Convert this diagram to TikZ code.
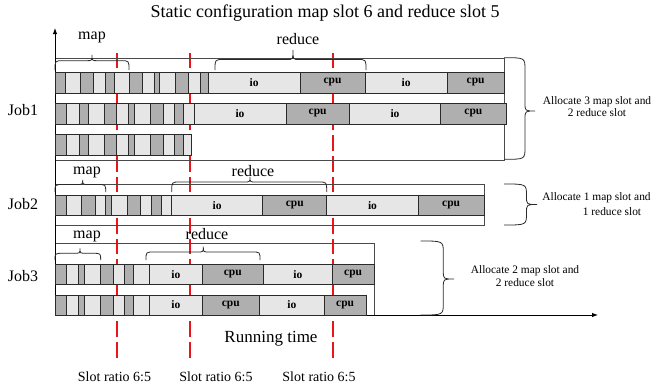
\documentclass[tikz,border=0pt]{standalone}
\usepackage{fontspec}
\setmainfont{Liberation Serif}
\usetikzlibrary{arrows.meta}

\definecolor{dk}{HTML}{AFAFAF}
\definecolor{lt}{HTML}{E6E6E6}
\definecolor{edge}{HTML}{2A2A2A}
\definecolor{ratiored}{HTML}{E8161B}

\tikzset{
  blk/.style={draw=edge, line width=0.9pt},
  frame/.style={draw=edge!85, line width=0.8pt},
  bracestyle/.style={draw=edge, line width=0.8pt},
  axisline/.style={draw=black, line width=0.9pt, -{Latex[length=6pt,width=4.5pt]}},
  ratioline/.style={draw=ratiored, line width=2pt, dash pattern=on 15.5pt off 5.17pt},
  phase/.style={font=\fontsize{11.5}{12}\selectfont\bfseries, inner sep=0pt},
  stage/.style={font=\fontsize{16}{18}\selectfont, inner sep=0pt},
  joblabel/.style={font=\fontsize{16}{18}\selectfont, inner sep=0pt},
  note/.style={font=\fontsize{11.4}{12.7}\selectfont, align=center, inner sep=0pt},
  ratiolabel/.style={font=\fontsize{14}{16}\selectfont, inner sep=0pt}
}

% horizontal brace over a stage: x1, x2, xtip, yends, ybar, ytip
\newcommand\stagebrace[6]{%
  \draw[bracestyle] (#1,#4) .. controls (#1,#5) .. (#1+8,#5) -- (#3-6,#5)
    .. controls (#3,#5) .. (#3,#6) .. controls (#3,#5) .. (#3+6,#5)
    -- (#2-8,#5) .. controls (#2,#5) .. (#2,#4);}

% vertical brace to the right of a job: xends, xbar, xtip, ytop, ybot, ytip
\newcommand\jobbrace[6]{%
  \draw[bracestyle] (#1,#4) .. controls (#2,#4) .. (#2,#4+12) -- (#2,#6-8)
    .. controls (#2,#6) .. (#3,#6) .. controls (#2,#6) .. (#2,#6+8)
    -- (#2,#5-12) .. controls (#2,#5) .. (#1,#5);}

% a row of map tasks: ytop, ybot, {x1/x2/colour,...}
\newcommand\taskrow[3]{%
  \foreach \a/\b/\c in {#3} \draw[blk, fill=\c] (\a,#1) rectangle (\b,#2);}

% a reduce phase block: x1, x2, ytop, ybot, colour, name, text
\newcommand\phasebox[7]{%
  \draw[blk, fill=#5] (#1,#3) rectangle (#2,#4);
  \node[phase] (#6) at ({(#1+#2)/2},{(#3+#4)/2}) {#7};}

\begin{document}
\begin{tikzpicture}[x=1pt, y=-1pt]
\useasboundingbox (0,0) rectangle (652,388);

% title
\node[font=\fontsize{18}{20}\selectfont, inner sep=0pt] (title) at (325,13)
  {Static configuration map slot 6 and reduce slot 5};

% slot-ratio marks
\foreach \x/\n in {117/r1, 190/r2, 333/r3} {
  \coordinate (\n top) at (\x,52.7);
  \coordinate (\n bot) at (\x,357.5);
  \draw[ratioline] (\n top) -- (\n bot);
}

% job frames
\draw[frame] (55,58) rectangle (504,160);
\draw[frame] (55,184.3) rectangle (484,225);
\draw[frame] (55,243.3) rectangle (374,315);

% axes
\coordinate (origin) at (55,315);
\coordinate (yend) at (55,28);
\coordinate (xend) at (598,315);
\draw[axisline] (origin) -- (yend);
\draw[axisline] (origin) -- (xend);

% ---- Job1 ----
\taskrow{72}{93}{55/65/dk, 65/80.7/lt, 80.7/93.3/dk, 93.3/105/lt, 105/114/dk,
  114/129.3/lt, 129.3/142.7/dk, 142.7/154/lt, 154/159.3/dk, 159.3/175.5/lt,
  175.5/188.7/dk, 188.7/200/lt, 200/208.3/dk}
\phasebox{208.3}{300}{72}{93}{lt}{j1a1}{io}
\phasebox{300}{365}{72}{93}{dk}{j1a2}{cpu}
\phasebox{365}{447.3}{72}{93}{lt}{j1a3}{io}
\phasebox{447.3}{504}{72}{93}{dk}{j1a4}{cpu}

\taskrow{103}{124}{55/66.7/dk, 66.7/79.3/lt, 79.3/88.3/dk, 88.3/104/lt,
  104/116.7/dk, 116.7/128.3/lt, 128.3/134.3/dk, 134.3/150/lt, 150/163.3/dk,
  163.3/174.7/lt, 174.7/183.3/dk, 183.3/194/lt}
\phasebox{194}{286}{103}{124}{lt}{j1b1}{io}
\phasebox{286}{349.3}{103}{124}{dk}{j1b2}{cpu}
\phasebox{349.3}{440.7}{103}{124}{lt}{j1b3}{io}
\phasebox{440.7}{506}{103}{124}{dk}{j1b4}{cpu}

\taskrow{134}{155}{55/66.7/dk, 66.7/79.3/lt, 79.3/88.3/dk, 88.3/104/lt,
  104/116.7/dk, 116.7/128.3/lt, 128.3/134.3/dk, 134.3/150/lt, 150/163.3/dk,
  163.3/174.7/lt, 174.7/183.3/dk, 183.3/191.7/lt}

\stagebrace{55}{129}{92}{70}{60.7}{55}
\stagebrace{215}{366}{293}{70}{59.5}{50}
\node[stage] (j1map) at (92,37) {map};
\node[stage] (j1red) at (298,39) {reduce};
\node[joblabel] (job1) at (23,110) {Job1};
\jobbrace{504}{525}{535}{57.7}{159.3}{111}
\node[note] (j1note) at (597,106.5) {Allocate 3 map slot and\\2 reduce slot};

% ---- Job2 ----
\taskrow{195.5}{215}{55/66/dk, 66/81.7/lt, 81.7/95/dk, 95/105.7/lt,
  105.7/111/dk, 111/127.5/lt, 127.5/140.7/dk, 140.7/151.7/lt, 151.7/161/dk,
  161/171.7/lt}
\phasebox{171.7}{262.7}{195.5}{215}{lt}{j2a1}{io}
\phasebox{262.7}{326.7}{195.5}{215}{dk}{j2a2}{cpu}
\phasebox{326.7}{418.3}{195.5}{215}{lt}{j2a3}{io}
\phasebox{418.3}{484}{195.5}{215}{dk}{j2a4}{cpu}

\stagebrace{55}{105.7}{82.7}{192}{184.5}{180}
\stagebrace{171.7}{326.7}{250}{192}{182}{177}
\node[stage] (j2map) at (87,172) {map};
\node[stage] (j2red) at (253,171) {reduce};
\node[joblabel] (job2) at (23,204) {Job2};
\jobbrace{504}{526.5}{537}{184}{225}{204.5}
\node[note] (j2note1) at (596.5,197.5) {Allocate 1 map slot and};
\node[note] (j2note2) at (612,211.5) {1 reduce slot};

% ---- Job3 ----
\taskrow{264.3}{284.3}{55/66.7/dk, 66.7/78.3/lt, 78.3/84.3/dk, 84.3/100/lt,
  100/113.3/dk, 113.3/124/lt, 124/133.3/dk, 133.3/149.3/lt}
\phasebox{149.3}{202.3}{264.3}{284.3}{lt}{j3a1}{io}
\phasebox{202.3}{263.3}{264.3}{284.3}{dk}{j3a2}{cpu}
\phasebox{263.3}{332.3}{264.3}{284.3}{lt}{j3a3}{io}
\phasebox{332.3}{374}{264.3}{284.3}{dk}{j3a4}{cpu}

\taskrow{295}{315}{55/66.7/dk, 66.7/78.3/lt, 78.3/84.3/dk, 84.3/100/lt,
  100/113.3/dk, 113.3/124/lt, 124/133.3/dk, 133.3/149.3/lt}
\phasebox{149.3}{202.3}{295}{315}{lt}{j3b1}{io}
\phasebox{202.3}{259.3}{295}{315}{dk}{j3b2}{cpu}
\phasebox{259.3}{324.3}{295}{315}{lt}{j3b3}{io}
\phasebox{324.3}{366}{295}{315}{dk}{j3b4}{cpu}

\stagebrace{55}{100.7}{80}{260}{253.3}{248.3}
\stagebrace{146}{260}{203.3}{260}{252}{246.7}
\node[stage] (j3map) at (87,236) {map};
\node[stage] (j3red) at (207,234) {reduce};
\node[joblabel] (job3) at (23,276) {Job3};
\jobbrace{420.7}{443.3}{454}{241}{315}{279}
\node[note] (j3note) at (525,276) {Allocate 2 map slot and\\2 reduce slot};

% axis caption and ratio labels
\node[font=\fontsize{17}{19}\selectfont, inner sep=0pt] (runtime) at (271,339) {Running time};
\node[ratiolabel] (rl1) at (114.5,377) {Slot ratio 6:5};
\node[ratiolabel] (rl2) at (216,377) {Slot ratio 6:5};
\node[ratiolabel] (rl3) at (319,377) {Slot ratio 6:5};
\end{tikzpicture}
\end{document}
